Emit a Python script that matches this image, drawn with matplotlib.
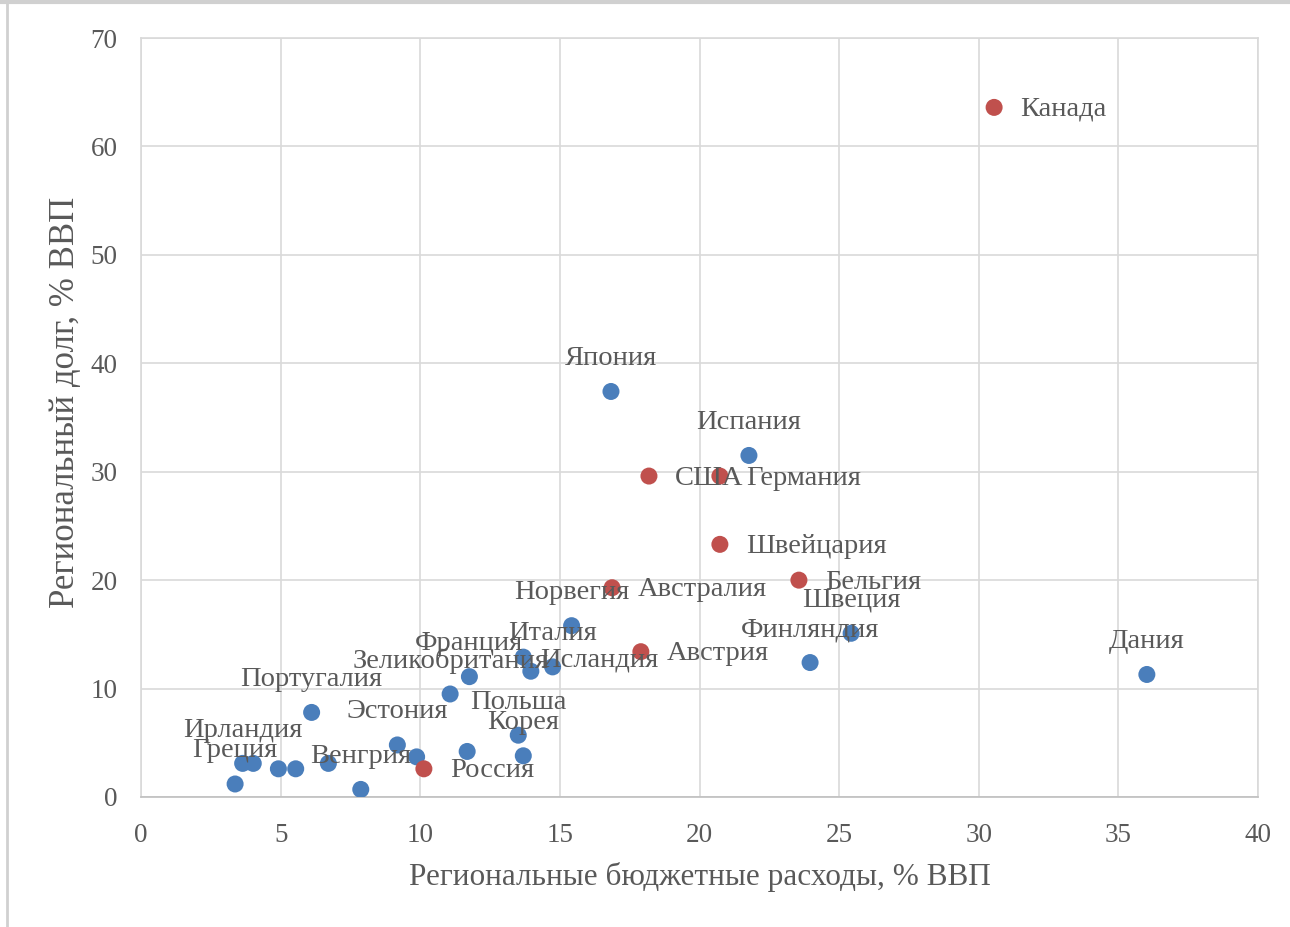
import matplotlib
matplotlib.use("Agg")
import matplotlib.pyplot as plt
from matplotlib.lines import Line2D

# Регионы с высоким долгом (красные)
red_names = ["Канада", "США", "Германия", "Швейцария", "Бельгия",
             "Австралия", "Австрия", "Россия"]
red_x = [30.55, 18.19, 20.73, 20.73, 23.56, 16.87, 17.90, 10.13]
red_y = [63.6, 29.6, 29.6, 23.3, 20.0, 19.3, 13.4, 2.6]

# Остальные страны (синие), пустое имя - точка без подписи
blue_names = ["Япония", "Испания", "Дания", "Швеция", "Финляндия", "Норвегия",
              "Италия", "Исландия", "", "Франция", "Зеликобритания",
              "Португалия", "Эстония", "Польша", "Корея", "Ирландия", "Греция",
              "Венгрия", "", "", "", "", "", ""]
blue_x = [16.83, 21.77, 36.02, 25.43, 23.96, 15.42,
          14.74, 13.69, 13.96, 11.76, 11.07,
          6.11, 9.18, 13.51, 13.69, 3.64, 3.37,
          7.87, 4.02, 4.92, 5.54, 6.71, 9.87, 11.68]
blue_y = [37.4, 31.5, 11.3, 15.1, 12.4, 15.8,
          12.0, 12.9, 11.6, 11.1, 9.5,
          7.8, 4.8, 5.7, 3.8, 3.1, 1.2,
          0.7, 3.1, 2.6, 2.6, 3.1, 3.7, 4.2]

x_ticks = [0, 5, 10, 15, 20, 25, 30, 35, 40]
y_ticks = [0, 10, 20, 30, 40, 50, 60, 70]

BLUE = "#4a7ebb"
RED = "#c0504d"
TXT = "#595959"
GRID = "#d9d9d9"

plt.rcParams['font.family'] = ['Liberation Serif', 'DejaVu Serif']

fig = plt.figure(figsize=(12.9, 9.27), dpi=100)
ax = fig.add_axes([141 / 1290, 130 / 927, 1117 / 1290, 759 / 927])

ax.scatter(blue_x, blue_y, s=150, color=BLUE, edgecolors="none", zorder=3)
ax.scatter(red_x, red_y, s=150, color=RED, edgecolors="none", zorder=3)

PX = 0.72  # pixel -> point at dpi 100
lab_fs = 20.5

for n, x, y in zip(blue_names, blue_x, blue_y):
    if not n:
        continue
    if n == "Исландия":
        ax.annotate(n, (x, y), xytext=(17 * PX, -3 * PX), textcoords="offset points",
                    ha="left", va="center", fontsize=lab_fs, color=TXT, zorder=4)
    else:
        ax.annotate(n, (x, y), xytext=(0, 33 * PX), textcoords="offset points",
                    ha="center", va="center", fontsize=lab_fs, color=TXT, zorder=4)

for n, x, y in zip(red_names, red_x, red_y):
    ax.annotate(n, (x, y), xytext=(26 * PX, -2 * PX), textcoords="offset points",
                ha="left", va="center", fontsize=lab_fs, color=TXT, zorder=4)

ax.set_xlim(0, 40)
ax.set_ylim(0, 70)
ax.set_xticks(x_ticks)
ax.set_yticks(y_ticks)
ax.tick_params(length=0, labelsize=19.5, labelcolor=TXT)
ax.tick_params(axis="x", pad=19)
ax.tick_params(axis="y", pad=17)
ax.grid(True, color=GRID, lw=1.2)
ax.set_axisbelow(True)
for s in ax.spines.values():
    s.set_color(GRID)
    s.set_linewidth(1.2)
ax.spines["bottom"].set_color("#bfbfbf")

ax.set_xlabel("Региональные бюджетные расходы, % ВВП", fontsize=22.5, color=TXT, labelpad=10)
ax.set_ylabel("Региональный долг, % ВВП", fontsize=25, color=TXT, va="center")
ax.yaxis.set_label_coords(-0.068, 0.52)

# рамка скриншота
fig.add_artist(Line2D([0, 1], [0.998, 0.998], transform=fig.transFigure, color="#d0d0d0", lw=3))
fig.add_artist(Line2D([7 / 1290, 7 / 1290], [0, 1], transform=fig.transFigure, color="#d0d0d0", lw=2))

fig.savefig("out.png", dpi=100)
